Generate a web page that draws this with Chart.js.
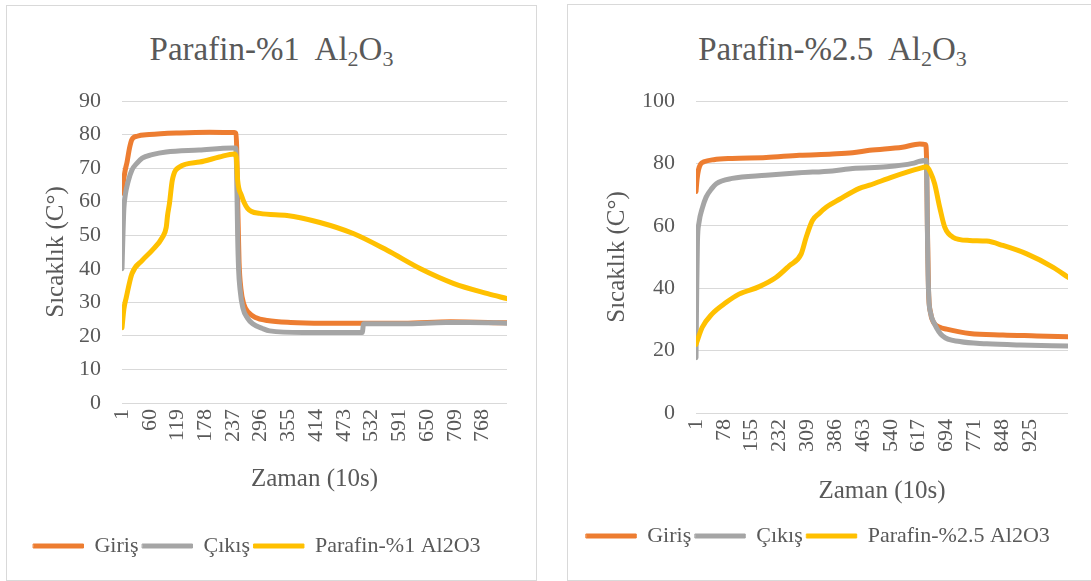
<!DOCTYPE html>
<html>
<head>
<meta charset="utf-8">
<script src="https://cdn.jsdelivr.net/npm/chart.js@4.4.1/dist/chart.umd.min.js"></script>
<style>
  html, body { margin: 0; padding: 0; background: #fff; overflow: hidden; width: 1091px; height: 581px; }
  .panel { position: absolute; border: 1px solid #d9d9d9; background: #fff; }
  #p1 { left: 6px; top: 5px; width: 529px; height: 574px; }
  #p2 { left: 567px; top: 4px; width: 529px; height: 575px; }
  .title { position: absolute; left: 0; right: 0; text-align: center; font-family: 'Liberation Serif';
           font-size: 33px; line-height: 40px; color: #595959; white-space: nowrap; }
  .title sub { font-size: 22px; line-height: 0; vertical-align: -6px; }
  canvas { position: absolute; left: 0; top: 0; }
</style>
</head>
<body>
<div class="panel" id="p1">
  <div class="title" style="top:23px">Parafin-%1&nbsp; Al<sub>2</sub>O<sub>3</sub></div>
  <canvas id="c1" width="529" height="574"></canvas>
</div>
<div class="panel" id="p2">
  <div class="title" style="top:24px">Parafin-%2.5&nbsp; Al<sub>2</sub>O<sub>3</sub></div>
  <canvas id="c2" width="529" height="575"></canvas>
</div>
<script>
// colours / fonts
const ORANGE = '#ED7D31', GRAY = '#A5A5A5', YELLOW = '#FFC000';
const TXT = '#595959';
const SERIF = 'Liberation Serif';
Chart.defaults.font.family = SERIF;

// ---- left chart: Parafin-%1 Al2O3 ----
const leftTicks = [1, 60, 119, 178, 237, 296, 355, 414, 473, 532, 591, 650, 709, 768];
const leftLastRow = 820;
const leftGirisT = [1, 4, 8, 12, 17, 22, 33, 59, 123, 187, 240, 243, 245, 247, 250, 254, 260, 270, 285, 310, 360, 430, 514, 600, 700, 820];
const leftGirisV = [62.5, 66, 69.5, 72, 76, 78.5, 79.5, 80, 80.5, 80.7, 80.6, 80.4, 76, 60, 42, 34, 29.5, 27, 25.5, 24.6, 24, 23.8, 23.8, 23.8, 24.2, 23.9];
const leftCikisT = [1, 3, 5, 8, 14, 22, 33, 44, 65, 95, 165, 236, 243, 245, 247, 249, 252, 258, 268, 279, 300, 315, 386, 512, 515, 600, 690, 740, 820];
const leftCikisV = [40, 50, 58, 62, 66, 69.4, 71.5, 73, 74, 74.8, 75.4, 76, 76, 68, 50, 40, 34, 28.4, 25.3, 23.6, 22.2, 21.5, 21, 21, 23.6, 23.6, 24, 24, 23.8];
const leftParT = [1, 5, 10, 22, 44, 65, 87, 95, 98, 102, 108, 123, 166, 208, 240, 244, 247, 255, 268, 294, 352, 422, 493, 565, 636, 707, 779, 820];
const leftParV = [22.4, 28, 31.4, 38.5, 42.5, 45.5, 49.4, 52.3, 56, 59.5, 66.4, 70.3, 71.8, 73.3, 74.2, 73.3, 66.4, 61.9, 58, 56.5, 55.9, 53.8, 50.5, 45.5, 40, 35.6, 32.6, 31.1];

// ---- right chart: Parafin-%2.5 Al2O3 ----
const rightTicks = [1, 78, 155, 232, 309, 386, 463, 540, 617, 694, 771, 848, 925];
const rightLastRow = 1030;
const rightGirisT = [1, 4, 8, 14, 23, 50, 101, 195, 287, 378, 434, 481, 572, 620, 636, 639, 641, 644, 650, 656, 675, 694, 758, 850, 944, 1030];
const rightGirisV = [71, 75, 78, 79.8, 80.5, 81.2, 81.6, 81.9, 82.6, 83.0, 83.4, 84.2, 85.2, 86.2, 86, 80, 60, 40, 32, 29.5, 27.5, 26.9, 25.5, 25, 24.7, 24.4];
const rightCikisT = [1, 3, 5, 9, 18, 29, 45, 57, 101, 195, 287, 378, 434, 528, 600, 620, 638, 640, 642, 645, 650, 661, 683, 731, 805, 897, 1030];
const rightCikisV = [17.7, 40, 55, 60.8, 65.5, 69.2, 72, 73.5, 75.2, 76.2, 77, 77.6, 78.4, 78.9, 80, 80.7, 81, 70, 50, 37, 32, 28.5, 24.7, 22.9, 22.2, 21.8, 21.5];
const rightParT = [1, 18, 45, 84, 120, 176, 223, 259, 292, 306, 323, 342, 362, 398, 453, 481, 545, 620, 639, 650, 661, 675, 689, 711, 758, 805, 850, 916, 989, 1030];
const rightParV = [22, 27.4, 31.7, 35.4, 38.1, 40.5, 43.5, 47.2, 51, 56.4, 61.7, 64, 66, 68.5, 72, 73, 75.7, 78.4, 78.9, 77, 73.5, 66, 59.6, 56.4, 55.3, 55.1, 53.7, 51, 46.7, 43.5];

function pts(t, v) {
  return t.map((x, i) => ({ x: x, y: v[i] }));
}

function series(label, t, v, color, order) {
  return {
    label: label, data: pts(t, v),
    borderColor: color, backgroundColor: color,
    borderWidth: 5, pointRadius: 0, order: order,
    cubicInterpolationMode: 'monotone',
    borderJoinStyle: 'round', borderCapStyle: 'round'
  };
}

function makeChart(id, s) {
  const ctx = document.getElementById(id).getContext('2d');
  return new Chart(ctx, {
    type: 'line',
    data: {
      datasets: [
        series('Giriş', s.girisT, s.girisV, ORANGE, 3),
        series('Çıkış', s.cikisT, s.cikisV, GRAY, 2),
        series(s.parLabel, s.parT, s.parV, YELLOW, 1)
      ]
    },
    options: {
      responsive: false,
      animation: false,
      layout: { padding: { left: 0, right: 29, top: s.top, bottom: s.bottomPad } },
      scales: {
        x: {
          type: 'linear', min: 1, max: s.lastRow,
          afterBuildTicks: sc => { sc.ticks = s.ticks.map(v => ({ value: v })); },
          afterFit: sc => { sc.height = s.xHeight; },
          grid: { display: false, drawTicks: false },
          border: { display: false },
          ticks: { autoSkip: false, minRotation: 90, maxRotation: 90, padding: 6, color: TXT,
                   font: { family: SERIF, size: 22 }, callback: v => String(v) },
          title: { display: true, text: 'Zaman (10s)', color: TXT, font: { family: SERIF, size: 25 },
                   padding: { top: 0, bottom: s.xTitlePad } }
        },
        y: {
          min: 0, max: s.yMax,
          afterFit: sc => { sc.width = s.left; },
          grid: { color: '#d9d9d9', lineWidth: 1, drawTicks: false },
          border: { display: false },
          ticks: { stepSize: s.yStep, padding: 21, color: TXT, font: { family: SERIF, size: 22 } },
          title: { display: true, text: 'Sıcaklık (C°)', color: TXT, font: { family: SERIF, size: 25 },
                   padding: { top: 34, bottom: 0 } }
        }
      },
      plugins: {
        legend: {
          position: 'bottom',
          labels: {
            boxWidth: 50, boxHeight: 4, padding: 4, color: TXT,
            font: { family: SERIF, size: 22 },
            sort: (a, b) => a.datasetIndex - b.datasetIndex,
            generateLabels: chart => Chart.defaults.plugins.legend.labels.generateLabels(chart)
              .map(l => Object.assign(l, { lineWidth: 1, strokeStyle: l.fillStyle }))
          }
        },
        tooltip: { enabled: false }
      }
    }
  });
}

function drawAll() {
  makeChart('c1', {
    ticks: leftTicks, lastRow: leftLastRow, yMax: 90, yStep: 10,
    girisT: leftGirisT, girisV: leftGirisV, cikisT: leftCikisT, cikisV: leftCikisV,
    parT: leftParT, parV: leftParV, parLabel: 'Parafin-%1 Al2O3',
    top: 95, left: 115, bottomPad: 13, xHeight: 128, xTitlePad: 37
  });
  makeChart('c2', {
    ticks: rightTicks, lastRow: rightLastRow, yMax: 100, yStep: 20,
    girisT: rightGirisT, girisV: rightGirisV, cikisT: rightCikisT, cikisV: rightCikisV,
    parT: rightParT, parV: rightParV, parLabel: 'Parafin-%2.5 Al2O3',
    top: 96, left: 128, bottomPad: 23, xHeight: 108, xTitlePad: 15
  });
}

drawAll();
</script>
</body>
</html>
